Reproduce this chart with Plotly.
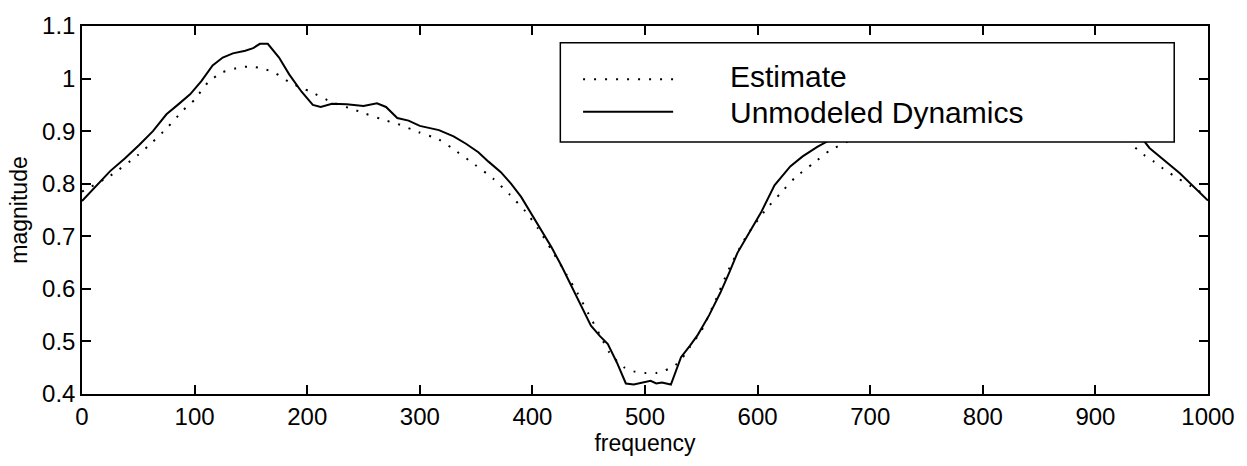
import plotly.graph_objects as go

# ---- data ----
freq_unmodeled = [0, 12, 25, 38, 51, 63, 75, 85, 96, 106, 116, 125, 134, 145, 152, 158, 165, 175, 184, 195,
                  205, 212, 222, 235, 250, 262, 270, 280, 290, 300, 317, 330, 341, 352, 361, 372, 381, 390,
                  396, 405, 417, 426, 435, 444, 452, 460, 467, 475, 483, 490, 500, 505, 510, 515, 523, 532,
                  540, 547, 557, 567, 575, 582, 592, 603, 615, 622, 629, 640, 653, 670, 690, 710, 730, 745,
                  765, 790, 800, 815, 835, 850, 866, 884, 904, 925, 948, 975, 1000]
mag_unmodeled = [0.767, 0.795, 0.824, 0.848, 0.874, 0.900, 0.932, 0.950, 0.970, 0.995, 1.025, 1.040, 1.048,
                 1.053, 1.058, 1.066, 1.066, 1.040, 1.008, 0.975, 0.950, 0.946, 0.952, 0.951, 0.948, 0.953,
                 0.946, 0.925, 0.920, 0.910, 0.902, 0.890, 0.876, 0.860, 0.842, 0.822, 0.800, 0.775, 0.754,
                 0.720, 0.679, 0.643, 0.603, 0.565, 0.530, 0.510, 0.495, 0.460, 0.420, 0.418, 0.422, 0.425,
                 0.420, 0.422, 0.418, 0.470, 0.492, 0.513, 0.550, 0.593, 0.632, 0.668, 0.705, 0.745, 0.797,
                 0.815, 0.833, 0.852, 0.870, 0.890, 0.905, 0.918, 0.940, 0.950, 0.950, 0.948, 0.975, 1.008,
                 1.066, 1.058, 1.048, 1.025, 0.970, 0.932, 0.868, 0.820, 0.768]

freq_estimate = [0, 25, 50, 63, 75, 90, 100, 112, 125, 140, 150, 162, 172, 185, 203, 222, 240, 252, 270, 280,
                 299, 317, 333, 349, 365, 380, 394, 405, 417, 430, 440, 450, 460, 468, 475, 482, 490, 500,
                 510, 518, 527, 533, 540, 550, 562, 575, 590, 607, 620, 633, 649, 664, 680, 700, 720, 748,
                 778, 797, 815, 838, 860, 875, 888, 910, 925, 943, 952, 960, 969, 985, 1000]
mag_estimate = [0.785, 0.815, 0.855, 0.880, 0.905, 0.940, 0.960, 0.993, 1.012, 1.021, 1.023, 1.018, 1.010,
                0.992, 0.975, 0.955, 0.942, 0.933, 0.920, 0.914, 0.898, 0.884, 0.861, 0.836, 0.810, 0.779,
                0.747, 0.715, 0.674, 0.628, 0.592, 0.552, 0.512, 0.480, 0.463, 0.450, 0.443, 0.440, 0.440,
                0.445, 0.455, 0.468, 0.490, 0.520, 0.575, 0.640, 0.700, 0.750, 0.781, 0.811, 0.838, 0.863,
                0.880, 0.898, 0.914, 0.933, 0.955, 0.975, 0.992, 1.018, 1.021, 1.012, 0.993, 0.955, 0.890,
                0.855, 0.842, 0.829, 0.816, 0.795, 0.775]

x_ticks = [0, 100, 200, 300, 400, 500, 600, 700, 800, 900, 1000]
y_ticks = [0.4, 0.5, 0.6, 0.7, 0.8, 0.9, 1.0, 1.1]
y_ticktext = ["0.4", "0.5", "0.6", "0.7", "0.8", "0.9", "1", "1.1"]
legend_labels = ["Estimate", "Unmodeled Dynamics"]

FONT = "Liberation Sans, Arial, Helvetica, sans-serif"
DOT_DASH = "2px,9px"

fig = go.Figure()
fig.add_trace(go.Scatter(x=freq_estimate, y=mag_estimate, mode="lines", name=legend_labels[0],
                         line=dict(color="black", width=2, dash=DOT_DASH, shape="spline", smoothing=0.6),
                         showlegend=False))
fig.add_trace(go.Scatter(x=freq_unmodeled, y=mag_unmodeled, mode="lines", name=legend_labels[1],
                         line=dict(color="black", width=2), showlegend=False))

# hand-drawn legend box, matching the reference layout
fig.add_shape(type="rect", xref="paper", yref="paper", x0=0.4248, x1=0.970, y0=0.6845, y1=0.9545,
              fillcolor="white", line=dict(color="black", width=1.5), layer="above")
fig.add_shape(type="line", xref="paper", yref="paper", x0=0.445, x1=0.525, y0=0.855, y1=0.855,
              line=dict(color="black", width=2, dash=DOT_DASH), layer="above")
fig.add_shape(type="line", xref="paper", yref="paper", x0=0.445, x1=0.525, y0=0.767, y1=0.767,
              line=dict(color="black", width=2), layer="above")
fig.add_annotation(x=0.5735, y=0.864, xref="paper", yref="paper", text=legend_labels[0], showarrow=False,
                   xanchor="left", yanchor="middle", font=dict(family=FONT, size=30, color="black"))
fig.add_annotation(x=0.5735, y=0.766, xref="paper", yref="paper", text=legend_labels[1], showarrow=False,
                   xanchor="left", yanchor="middle", font=dict(family=FONT, size=30, color="black"))

axis_common = dict(showline=True, linecolor="black", linewidth=1.5, mirror="ticks", ticks="inside",
                   ticklen=9, tickwidth=1.5, tickcolor="black", showgrid=False, zeroline=False,
                   tickfont=dict(family=FONT, size=24, color="black"))

fig.update_layout(
    width=1247, height=466,
    margin=dict(l=82, r=35, t=20, b=72),
    paper_bgcolor="white", plot_bgcolor="white",
    showlegend=False,
    xaxis=dict(range=[0, 1000], tickvals=x_ticks,
               title=dict(text="frequency", font=dict(family=FONT, size=23, color="black"), standoff=4),
               **axis_common),
    yaxis=dict(range=[0.4, 1.1], tickvals=y_ticks, ticktext=y_ticktext,
               title=dict(text="magnitude", font=dict(family=FONT, size=23, color="black"), standoff=8),
               **axis_common),
)

fig.write_html("out.html")
